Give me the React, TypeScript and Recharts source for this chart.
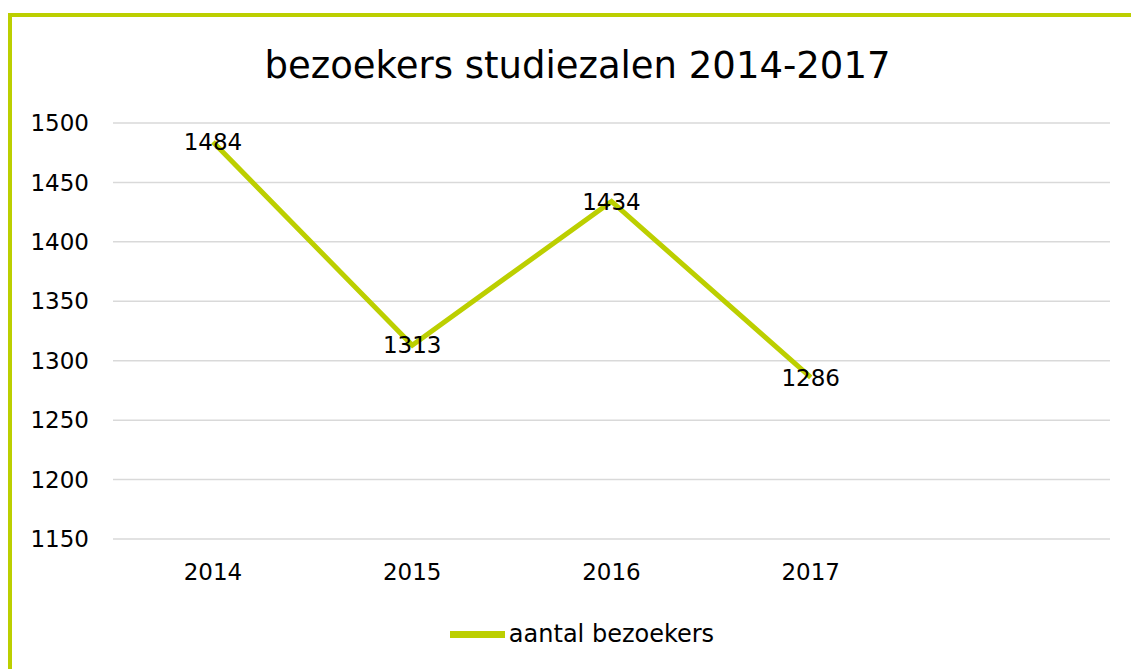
import React from "react";
import { LineChart, Line, XAxis, YAxis, CartesianGrid, Legend, LabelList } from "recharts";

const years = ["2014", "2015", "2016", "2017", ""];
const visitors: (number | null)[] = [1484, 1313, 1434, 1286, null];
const yTicks = [1150, 1200, 1250, 1300, 1350, 1400, 1450, 1500];
const title = "bezoekers studiezalen 2014-2017";
const seriesName = "aantal bezoekers";

const data = years.map((y, i) => ({ year: y, value: visitors[i] }));

const FONT = "'DejaVu Sans', Verdana, sans-serif";
const GREEN = "#BCCF00";

export default function App() {
  return (
    <div
      style={{
        position: "absolute",
        left: 8,
        top: 13,
        width: 1119,
        height: 652,
        borderLeft: `4px solid ${GREEN}`,
        borderTop: `4px solid ${GREEN}`,
        background: "#fff",
        fontFamily: FONT,
      }}
    >
      <div
        style={{
          position: "absolute",
          left: 2,
          top: 29,
          width: 1127,
          textAlign: "center",
          fontSize: 37,
          color: "#000",
          lineHeight: "40px",
        }}
      >
        {title}
      </div>
      <LineChart
        width={1119}
        height={652}
        data={data}
        margin={{ top: 106, right: 21, left: 0, bottom: 20 }}
        style={{ fontFamily: FONT }}
      >
        <CartesianGrid vertical={false} stroke="#d9d9d9" strokeWidth={1.5} />
        <XAxis
          dataKey="year"
          axisLine={false}
          tickLine={false}
          tickSize={0}
          tickMargin={25}
          height={60}
          padding={{ left: 100, right: 100 }}
          tick={{ fill: "#000", fontSize: 23 }}
          interval={0}
        />
        <YAxis
          domain={[1150, 1500]}
          ticks={yTicks}
          axisLine={false}
          tickLine={false}
          tickSize={0}
          tickMargin={24}
          width={101}
          tick={{ fill: "#000", fontSize: 23 }}
        />
        <Legend
          verticalAlign="bottom"
          height={50}
          iconType="plainline"
          iconSize={55}
          wrapperStyle={{ fontSize: 24, color: "#000", bottom: 12, left: 26 }}
          formatter={(v: string) => <span style={{ color: "#000" }}>{v}</span>}
        />
        <Line
          name={seriesName}
          dataKey="value"
          stroke={GREEN}
          strokeWidth={5}
          dot={false}
          isAnimationActive={false}
          legendType="plainline"
        >
          <LabelList dataKey="value" position="center" fill="#000" fontSize={23} />
        </Line>
      </LineChart>
    </div>
  );
}
